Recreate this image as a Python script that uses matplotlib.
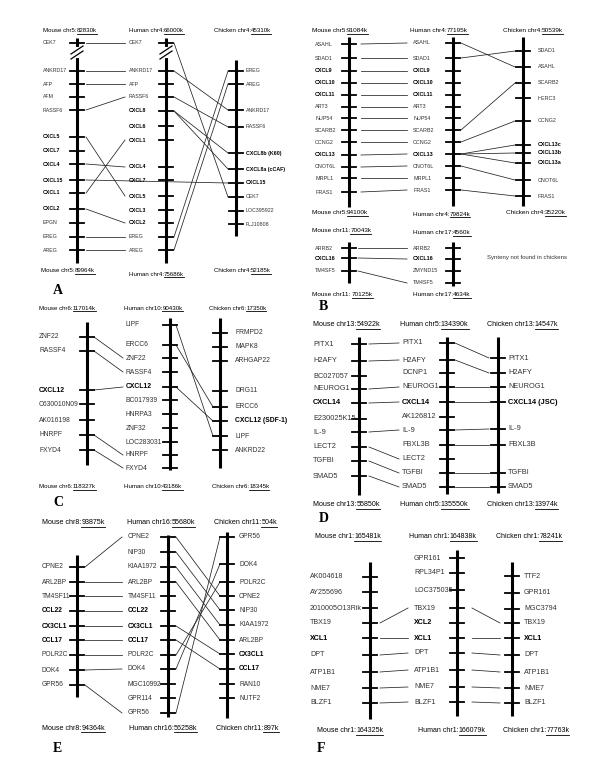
"""Synteny of chemokine gene regions across mouse, human and chicken chromosomes (panels A-F)."""
import matplotlib
matplotlib.use("Agg")
import matplotlib.pyplot as plt

# ---- Panel A ----
A_MOUSE = ["CEK7", "ANKRD17", "AFP", "AFM", "RASSF6", "CXCL5", "CXCL7", "CXCL4",
           "CXCL15", "CXCL1", "CXCL2", "EPGN", "EREG", "AREG"]
A_MOUSE_Y = [43, 71, 84, 97, 110, 137, 151, 164, 180, 193, 209, 223, 237, 250]
A_HUMAN = ["CEK7", "ANKRD17", "AFP", "RASSF6", "CXCL8", "CXCL6", "CXCL1", "CXCL4",
           "CXCL7", "CXCL5", "CXCL3", "CXCL2", "EREG", "AREG"]
A_HUMAN_Y = [43, 71, 84, 97, 111, 126, 140, 167, 180, 196, 210, 223, 237, 250]
A_CHICK = ["EREG", "AREG", "ANKRD17", "RASSF6", "CXCL8b (K60)", "CXCL8a (cCAF)",
           "CXCL15", "CEK7", "LOC395922", "FLJ10808"]
A_CHICK_Y = [71, 84, 110, 127, 153, 169, 183, 197, 211, 224]
A_MH = [("CEK7", "CEK7"), ("ANKRD17", "ANKRD17"), ("AFP", "AFP"), ("RASSF6", "RASSF6"),
        ("CXCL5", "CXCL5"), ("CXCL4", "CXCL4"), ("CXCL1", "CXCL1"), ("CXCL2", "CXCL2"),
        ("EREG", "EREG"), ("AREG", "AREG")]
A_HC = [("CEK7", "CEK7"), ("ANKRD17", "ANKRD17"), ("RASSF6", "RASSF6"),
        ("CXCL8", "CXCL8b (K60)"), ("CXCL8", "CXCL8a (cCAF)"), ("EREG", "EREG"), ("AREG", "AREG")]
A_MC = [("CXCL15", "CXCL15")]
A_HEAD = [("Mouse chr5:", "82830k"), ("Human chr4:", "66000k"), ("Chicken chr4:", "45310k")]
A_FOOT = [("Mouse chr5:", "89964k"), ("Human chr4:", "75686k"), ("Chicken chr4:", "52185k")]

# ---- Panel B ----
B_MOUSE = ["ASAHL", "SDAD1", "CXCL9", "CXCL10", "CXCL11", "ART3", "NUP54", "SCARB2",
           "CCNG2", "CXCL13", "CNOT6L", "MRPL1", "FRAS1"]
B_MOUSE_Y = [44, 58, 71, 83, 95, 107, 118, 130, 142, 155, 167, 178, 192]
B_HUMAN = list(B_MOUSE)
B_HUMAN_Y = [43, 58, 71, 83, 95, 107, 118, 130, 142, 154, 166, 178, 190]
B_CHICK = ["SDAD1", "ASAHL", "SCARB2", "HERC3", "CCNG2", "CXCL13c", "CXCL13b", "CXCL13a",
           "CNOT6L", "FRAS1"]
B_CHICK_Y = [51, 67, 83, 98, 121, 145, 153, 163, 180, 196]
B_MH = [(g, g) for g in B_MOUSE]
B_HC = [("ASAHL", "ASAHL"), ("SDAD1", "SDAD1"), ("SCARB2", "SCARB2"), ("CCNG2", "CCNG2"),
        ("CXCL13", "CXCL13c"), ("CXCL13", "CXCL13b"), ("CXCL13", "CXCL13a"),
        ("CNOT6L", "CNOT6L"), ("FRAS1", "FRAS1")]
B_HEAD = [("Mouse chr5:", "91084k"), ("Human chr4:", "77195k"), ("Chicken chr4:", "50539k")]
B_FOOT = [("Mouse chr5:", "94100k"), ("Human chr4:", "79824k"), ("Chicken chr4:", "35220k")]

B2_MOUSE = ["ARRB2", "CXCL16", "TM4SF5"]
B2_MOUSE_Y = [248, 258, 271]
B2_HUMAN = ["ARRB2", "CXCL16", "ZMYND15", "TM4SF5"]
B2_HUMAN_Y = [248, 259, 271, 283]
B2_MH = [("ARRB2", "ARRB2"), ("CXCL16", "CXCL16"), ("TM4SF5", "TM4SF5")]
B2_HEAD = [("Mouse chr11:", "70043k"), ("Human chr17:", "4560k")]
B2_FOOT = [("Mouse chr11: ", "70125k"), ("Human chr17:", "4634k")]

# ---- Panel C ----
C_MOUSE = ["ZNF22", "RASSF4", "CXCL12", "C630010N09", "AK016198", "HNRPF", "FXYD4"]
C_MOUSE_Y = [337, 351, 390, 404, 420, 435, 450]
C_HUMAN = ["LIPF", "ERCC6", "ZNF22", "RASSF4", "CXCL12", "BC017939", "HNRPA3", "ZNF32",
           "LOC283031", "HNRPF", "FXYD4"]
C_HUMAN_Y = [325, 345, 358, 372, 387, 400, 414, 428, 442, 455, 468]
C_CHICK = ["FRMPD2", "MAPK8", "ARHGAP22", "DRG11", "ERCC6", "CXCL12 (SDF-1)", "LIPF", "ANKRD22"]
C_CHICK_Y = [333, 347, 361, 391, 407, 421, 436, 450]
C_MH = [("ZNF22", "ZNF22"), ("RASSF4", "RASSF4"), ("CXCL12", "CXCL12"),
        ("HNRPF", "HNRPF"), ("FXYD4", "FXYD4")]
C_HC = [("LIPF", "LIPF"), ("ERCC6", "ERCC6"), ("CXCL12", "CXCL12 (SDF-1)")]
C_HEAD = [("Mouse chr6:", "117014k"), ("Human chr10:", "90430k"), ("Chicken chr6:", "17350k")]
C_FOOT = [("Mouse chr6:", "118327k"), ("Human chr10:", "43186k"), ("Chicken chr6:", "18345k")]

# ---- Panel D ----
D_MOUSE = ["PITX1", "H2AFY", "BC027057", "NEUROG1", "CXCL14", "E230025K15", "IL-9",
           "LECT2", "TGFBI", "SMAD5"]
D_MOUSE_Y = [344, 361, 376, 389, 403, 419, 432, 447, 461, 476]
D_HUMAN = ["PITX1", "H2AFY", "DCNP1", "NEUROG1", "CXCL14", "AK126812", "IL-9", "FBXL3B",
           "LECT2", "TGFBI", "SMAD5"]
D_HUMAN_Y = [343, 360, 373, 387, 402, 417, 430, 445, 459, 473, 487]
D_CHICK = ["PITX1", "H2AFY", "NEUROG1", "CXCL14 (JSC)", "IL-9", "FBXL3B", "TGFBI", "SMAD5"]
D_CHICK_Y = [358, 373, 387, 402, 429, 445, 473, 487]
D_MH = [(g, g) for g in ["PITX1", "H2AFY", "NEUROG1", "CXCL14", "IL-9", "LECT2", "TGFBI", "SMAD5"]]
D_HC = [("PITX1", "PITX1"), ("H2AFY", "H2AFY"), ("NEUROG1", "NEUROG1"),
        ("CXCL14", "CXCL14 (JSC)"), ("IL-9", "IL-9"), ("FBXL3B", "FBXL3B"),
        ("TGFBI", "TGFBI"), ("SMAD5", "SMAD5")]
D_HEAD = [("Mouse chr13:", "54922k"), ("Human chr5:", "134390k"), ("Chicken chr13:", "14547k")]
D_FOOT = [("Mouse chr13:", "55850k"), ("Human chr5:", "135550k"), ("Chicken chr13:", "13974k")]

# ---- Panel E ----
E_MOUSE = ["CPNE2", "ARL2BP", "TM4SF11", "CCL22", "CX3CL1", "CCL17", "POLR2C", "DOK4", "GPR56"]
E_MOUSE_Y = [567, 582, 596, 611, 626, 640, 655, 670, 685]
E_HUMAN = ["CPNE2", "NIP30", "KIAA1972", "ARL2BP", "TM4SF11", "CCL22", "CX3CL1", "CCL17",
           "POLR2C", "DOK4", "MGC10992", "GPR114", "GPR56"]
E_HUMAN_Y = [537, 552, 567, 582, 596, 611, 626, 640, 655, 669, 684, 698, 713]
E_CHICK = ["GPR56", "DOK4", "POLR2C", "CPNE2", "NIP30", "KIAA1972", "ARL2BP", "CX3CL1",
           "CCL17", "RAN10", "NUTF2"]
E_CHICK_Y = [537, 564, 582, 596, 610, 625, 640, 654, 669, 684, 698]
E_MH = [(g, g) for g in E_MOUSE]
E_HC = [(g, g) for g in ["CPNE2", "NIP30", "KIAA1972", "ARL2BP", "CX3CL1", "CCL17",
                         "POLR2C", "DOK4", "GPR56"]]
E_HEAD = [("Mouse chr8:", "93875k"), ("Human chr16:", "55680k"), ("Chicken chr11:", "504k")]
E_FOOT = [("Mouse chr8:", "94364k"), ("Human chr16:", "56258k"), ("Chicken chr11:", "897k")]

# ---- Panel F ----
F_MOUSE = ["AK004618", "AY255696", "2010005O13Rik", "TBX19", "XCL1", "DPT", "ATP1B1",
           "NME7", "BLZF1"]
F_MOUSE_Y = [577, 592, 608, 623, 638, 655, 672, 688, 703]
F_HUMAN = ["GPR161", "RPL34P1", "LOC375035", "TBX19", "XCL2", "XCL1", "DPT", "ATP1B1",
           "NME7", "BLZF1"]
F_HUMAN_Y = [558, 573, 590, 608, 623, 638, 653, 670, 687, 702]
F_CHICK = ["TTF2", "GPR161", "MGC3794", "TBX19", "XCL1", "DPT", "ATP1B1", "NME7", "BLZF1"]
F_CHICK_Y = [576, 593, 609, 623, 638, 655, 672, 688, 703]
F_MH = [(g, g) for g in ["TBX19", "XCL1", "DPT", "ATP1B1", "NME7", "BLZF1"]]
F_HC = list(F_MH)
F_HEAD = [("Mouse chr1:", "165481k"), ("Human chr1:", "164838k"), ("Chicken chr1:", "78241k")]
F_FOOT = [("Mouse chr1:", "164325k"), ("Human chr1:", "166079k"), ("Chicken chr1:", "77763k")]

SANS = ["Liberation Sans", "DejaVu Sans"]
SERIF = ["Liberation Serif", "DejaVu Serif"]

fig = plt.figure(figsize=(6.0, 7.76), dpi=100)
ax = fig.add_axes([0, 0, 1, 1])
ax.set_xlim(0, 600)
ax.set_ylim(776, 0)
ax.axis("off")
renderer = fig.canvas.get_renderer()


def is_bold(name):
    return name.startswith(("CXCL", "CCL", "CX3CL", "XCL"))


def chrom(x, top, bot, names, ys, lx, fs, brk=None):
    ax.plot([x, x], [top, bot], color="black", lw=2.2, solid_capstyle="butt", zorder=3)
    for y in ys:
        ax.plot([x - 7, x + 7], [y, y], color="black", lw=1.3, zorder=3)
    for name, y in zip(names, ys):
        bold = is_bold(name)
        ax.text(lx, y, name, fontsize=fs, family=SANS, va="center", ha="left",
                fontweight="bold" if bold else "normal",
                color="black" if bold else "#333333")
    if brk is not None:
        ax.plot([x, x], [brk - 4, brk + 3], color="white", lw=3, zorder=4)
        for dy in (-3, 2):
            ax.plot([x - 6, x + 6], [brk + dy + 4, brk + dy - 4], color="black", lw=0.9, zorder=5)
    return dict(zip(names, ys))


def links(pairs, left, right, x0, x1):
    for a, b in pairs:
        ax.plot([x0, x1], [left[a], right[b]], color="#222222", lw=0.55, zorder=2)


def header(x, y, parts, fs):
    prefix, num = parts
    t = ax.text(x, y, prefix, fontsize=fs, family=SANS, va="center", ha="left")
    bb = t.get_window_extent(renderer)
    inv = ax.transData.inverted()
    x_end = inv.transform((bb.x1, bb.y0))[0]
    t2 = ax.text(x_end, y, num, fontsize=fs, family=SANS, va="center", ha="left")
    bb2 = t2.get_window_extent(renderer)
    (ux0, uy), (ux1, _) = inv.transform([(bb2.x0, bb2.y0), (bb2.x1, bb2.y0)])
    ax.plot([ux0, ux1], [uy + 0.3, uy + 0.3], color="black", lw=0.6)


def headers(xs, ys, parts, fs):
    for x, y, p in zip(xs, ys, parts):
        header(x, y, p, fs)


def letter(x, y, s):
    ax.text(x, y, s, fontsize=10, family=SERIF, fontweight="bold", va="center", ha="left")


# Panel A
m = chrom(77, 38, 263, A_MOUSE, A_MOUSE_Y, 43, 3.8, brk=53)
h = chrom(166, 38, 263, A_HUMAN, A_HUMAN_Y, 129, 3.8, brk=53)
c = chrom(236, 60, 236, A_CHICK, A_CHICK_Y, 246, 3.8)
links(A_MH, m, h, 86, 125)
links(A_HC, h, c, 174, 228)
links(A_MC, m, c, 86, 228)
headers([43, 129, 214], [31, 31, 31], A_HEAD, 4.4)
headers([41, 129, 214], [271, 274, 271], A_FOOT, 4.4)
letter(53, 290, "A")

# Panel B
m = chrom(349, 37, 207, B_MOUSE, B_MOUSE_Y, 315, 3.9)
h = chrom(453, 37, 206, B_HUMAN, B_HUMAN_Y, 413, 3.9)
c = chrom(523, 37, 206, B_CHICK, B_CHICK_Y, 538, 3.9)
links(B_MH, m, h, 361, 407)
links(B_HC, h, c, 461, 515)
headers([312, 410, 503], [31, 31, 31], B_HEAD, 4.6)
headers([312, 413, 506], [213, 214, 213], B_FOOT, 4.6)
m = chrom(349, 242, 283, B2_MOUSE, B2_MOUSE_Y, 315, 3.9)
h = chrom(453, 242, 286, B2_HUMAN, B2_HUMAN_Y, 413, 3.9)
links(B2_MH, m, h, 358, 407)
headers([312, 413], [231, 233], B2_HEAD, 4.6)
headers([312, 413], [295, 295], B2_FOOT, 4.6)
ax.text(487, 258, "Synteny not found in chickens", fontsize=4.3, family=SANS,
        va="center", ha="left", color="#333333")
letter(319, 306, "B")

# Panel C
m = chrom(87, 322, 465, C_MOUSE, C_MOUSE_Y, 39, 4.9)
h = chrom(170, 318, 470, C_HUMAN, C_HUMAN_Y, 126, 4.9)
c = chrom(220, 318, 468, C_CHICK, C_CHICK_Y, 235, 4.9)
links(C_MH, m, h, 94, 123)
links(C_HC, h, c, 176, 213)
headers([39, 124, 209], [308, 308, 308], C_HEAD, 4.4)
headers([39, 124, 212], [487, 487, 487], C_FOOT, 4.4)
letter(53, 502, "C")

# Panel D
m = chrom(359, 337, 495, D_MOUSE, D_MOUSE_Y, 313, 5.3)
h = chrom(447, 337, 494, D_HUMAN, D_HUMAN_Y, 402, 5.3)
c = chrom(498, 337, 493, D_CHICK, D_CHICK_Y, 508, 5.3)
links(D_MH, m, h, 369, 399)
links(D_HC, h, c, 455, 489)
headers([313, 400, 487], [325, 325, 325], D_HEAD, 5.1)
headers([313, 400, 487], [505, 505, 505], D_FOOT, 5.1)
letter(319, 519, "D")

# Panel E
m = chrom(77, 555, 697, E_MOUSE, E_MOUSE_Y, 42, 4.8)
h = chrom(168, 535, 717, E_HUMAN, E_HUMAN_Y, 128, 4.8)
c = chrom(227, 532, 718, E_CHICK, E_CHICK_Y, 239, 4.8)
links(E_MH, m, h, 85, 122)
links(E_HC, h, c, 176, 220)
headers([42, 127, 214], [523, 523, 523], E_HEAD, 5.1)
headers([42, 129, 216], [728, 728, 728], E_FOOT, 5.1)
letter(53, 748, "E")

# Panel F
m = chrom(370, 562, 719, F_MOUSE, F_MOUSE_Y, 310, 5.1)
h = chrom(457, 550, 716, F_HUMAN, F_HUMAN_Y, 414, 5.1)
c = chrom(512, 562, 716, F_CHICK, F_CHICK_Y, 524, 5.1)
links(F_MH, m, h, 380, 408)
links(F_HC, h, c, 472, 500)
headers([315, 409, 496], [537, 537, 537], F_HEAD, 5.0)
headers([317, 418, 503], [731, 731, 731], F_FOOT, 5.0)
letter(317, 748, "F")

fig.savefig("out.png", dpi=100, facecolor="white")
